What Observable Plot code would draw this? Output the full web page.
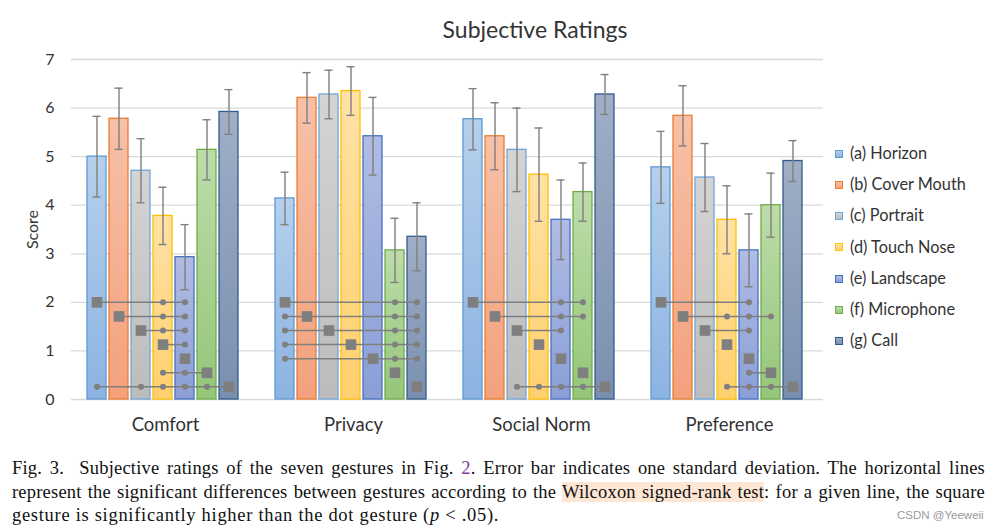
<!DOCTYPE html>
<html>
<head>
<meta charset="utf-8">
<script src="https://cdn.jsdelivr.net/npm/d3@7"></script>
<script src="https://cdn.jsdelivr.net/npm/@observablehq/plot@0.6"></script>
<style>
  html, body { margin: 0; padding: 0; background: #ffffff; }
  #page { position: relative; width: 1005px; height: 532px; overflow: hidden; font-family: Lato, "Noto Sans", sans-serif; color: #333; }
  #title { position: absolute; left: 385px; width: 300px; top: 15px; text-align: center; font-size: 23px; color: #333; }
  #chart { position: absolute; left: 0; top: 45px; }
  #legend { position: absolute; left: 835px; top: 137px; }
  .item { height: 31.2px; line-height: 31.2px; font-size: 16.3px; white-space: nowrap; color: #333; }
  .sw { display: inline-block; width: 6px; height: 6px; border: 1px solid; margin-right: 7px; vertical-align: middle; position: relative; top: -1px; }
  #caption { position: absolute; left: 12px; top: 457px; width: 973px; font-family: "Liberation Serif", "DejaVu Serif", serif; font-size: 18.5px; color: #111; }
  .line { height: 23.5px; line-height: 23.5px; white-space: nowrap; letter-spacing: 0.7px; }
  .just { text-align: justify; text-align-last: justify; letter-spacing: 0.2px; }
  .hl { background: #fde6d4; }
  .lnk { color: #7a3e9d; }
  #wm { position: absolute; left: 897px; top: 509px; font-family: "Liberation Sans", sans-serif; font-size: 11.5px; color: #9a9a9a; letter-spacing: 0; }
</style>
</head>
<body>
<div id="page">
  <div id="title">Subjective Ratings</div>
  <div id="chart"></div>
  <div id="legend"></div>
  <div id="caption">
    <div class="line just">Fig. 3.&nbsp; Subjective ratings of the seven gestures in Fig. <span class="lnk">2</span>. Error bar indicates one standard deviation. The horizontal lines</div>
    <div class="line just">represent the significant differences between gestures according to the <span class="hl">Wilcoxon signed-rank test</span>: for a given line, the square</div>
    <div class="line">gesture is significantly higher than the dot gesture (<i>p</i> &lt; .05).</div>
  </div>
  <div id="wm">CSDN @Yeeweii</div>
</div>
<script>
// ---- data ----
const groups = ["Comfort", "Privacy", "Social Norm", "Preference"];
const gestureKeys = ["a", "b", "c", "d", "e", "f", "g"];
const gestureNames = ["(a) Horizon", "(b) Cover Mouth", "(c) Portrait", "(d) Touch Nose", "(e) Landscape", "(f) Microphone", "(g) Call"];
const yTicks = [0, 1, 2, 3, 4, 5, 6, 7];

const comfortMean    = [5.00, 5.78, 4.71, 3.78, 2.93, 5.14, 5.92];
const comfortSD      = [0.83, 0.63, 0.66, 0.59, 0.67, 0.62, 0.46];
const privacyMean    = [4.14, 6.21, 6.28, 6.35, 5.42, 3.07, 3.35];
const privacySD      = [0.54, 0.52, 0.50, 0.50, 0.80, 0.66, 0.70];
const socialMean     = [5.77, 5.42, 5.14, 4.63, 3.70, 4.27, 6.28];
const socialSD       = [0.63, 0.69, 0.86, 0.96, 0.82, 0.60, 0.41];
const preferenceMean = [4.78, 5.84, 4.57, 3.70, 3.07, 4.00, 4.91];
const preferenceSD   = [0.74, 0.62, 0.70, 0.70, 0.75, 0.66, 0.42];

// significance: row i = square gesture i; string = dot gestures
const comfortSig    = ["de", "de", "de", "e", "", "de", "acdef"];
const privacySig    = ["fg", "afg", "afg", "afg", "afg", "", ""];
const socialSig     = ["ef", "ef", "e", "", "", "", "cdef"];
const preferenceSig = ["e", "def", "e", "", "", "e", "def"];

// colours (top of gradient, bottom of gradient, outline)
const fillTop    = ["#b6d0ec", "#f7c1a8", "#d4d4d4", "#ffe2a6", "#b0bce3", "#bddcaa", "#a0aec6"];
const fillBottom = ["#8cb3e2", "#f3a17c", "#bcbcbc", "#ffd06e", "#8b9fd6", "#95c67a", "#7a8fb0"];
const outline    = ["#5b9bd5", "#ed7d31", "#6ea6da", "#ffc000", "#4472c4", "#70ad47", "#2e5c90"];

// ---- build tables ----
const meanByGroup = [comfortMean, privacyMean, socialMean, preferenceMean];
const sdByGroup = [comfortSD, privacySD, socialSD, preferenceSD];
const sigByGroup = [comfortSig, privacySig, socialSig, preferenceSig];

const bars = [];
groups.forEach((g, gi) => gestureKeys.forEach((k, ki) => {
  bars.push({group: g, key: k, idx: ki, mean: meanByGroup[gi][ki], lo: meanByGroup[gi][ki] - sdByGroup[gi][ki], hi: meanByGroup[gi][ki] + sdByGroup[gi][ki]});
}));

const rowY = i => 2 - 0.29 * i;
const squares = [], dots = [], links = [];
groups.forEach((g, gi) => sigByGroup[gi].forEach((s, ri) => {
  const sq = gestureKeys[ri];
  squares.push({group: g, key: sq, y: rowY(ri)});
  const involved = [ri];
  for (const ch of s) {
    dots.push({group: g, key: ch, y: rowY(ri)});
    involved.push(gestureKeys.indexOf(ch));
  }
  if (s.length) {
    links.push({group: g, x1: gestureKeys[d3.min(involved)], x2: gestureKeys[d3.max(involved)], y: rowY(ri)});
  }
}));

const markGray = "#7f7f7f";

const barMarks = gestureKeys.map((k, i) => Plot.barY(bars.filter(d => d.key === k), {
  fx: "group", x: "key", y: "mean", fill: `url(#grad-${k})`, stroke: outline[i], strokeWidth: 1.3
}));

const chart = Plot.plot({
  width: 830,
  height: 400,
  marginLeft: 70,
  marginRight: 7,
  marginTop: 14,
  marginBottom: 46,
  style: {fontFamily: "Lato, 'Noto Sans', sans-serif", color: "#333", background: "transparent"},
  fx: {domain: groups, padding: 0},
  x: {domain: gestureKeys, paddingInner: 0.15, paddingOuter: 0.76, align: 0.42, axis: null},
  y: {domain: [0, 7]},
  marks: [
    Plot.gridY(yTicks, {stroke: "#d9d9d9", strokeOpacity: 1, strokeWidth: 1.3}),
    Plot.axisY({ticks: yTicks, tickSize: 0, tickPadding: 17, fontSize: 16, tickFormat: d3.format("d"), label: "Score", labelAnchor: "center", labelArrow: "none", labelOffset: 45}),
    Plot.axisFx({anchor: "bottom", tickSize: 0, tickPadding: 18, fontSize: 18.5, label: null}),
    ...barMarks,
    Plot.ruleX(bars, {fx: "group", x: "key", y1: "lo", y2: "hi", stroke: markGray, strokeWidth: 1.4}),
    Plot.tickY(bars, {fx: "group", x: "key", y: "lo", stroke: markGray, strokeWidth: 1.4, insetLeft: 5.5, insetRight: 5.5}),
    Plot.tickY(bars, {fx: "group", x: "key", y: "hi", stroke: markGray, strokeWidth: 1.4, insetLeft: 5.5, insetRight: 5.5}),
    Plot.link(links, {fx: "group", x1: "x1", x2: "x2", y1: "y", y2: "y", stroke: markGray, strokeWidth: 1.5}),
    Plot.dot(dots, {fx: "group", x: "key", y: "y", r: 3, fill: markGray, stroke: "none"}),
    Plot.dot(squares, {fx: "group", x: "key", y: "y", symbol: "square", r: 6, fill: markGray, stroke: "none"})
  ]
});

// gradient definitions
const defs = d3.select(chart).insert("defs", ":first-child");
gestureKeys.forEach((k, i) => {
  const lg = defs.append("linearGradient").attr("id", `grad-${k}`).attr("x1", 0).attr("y1", 0).attr("x2", 0).attr("y2", 1);
  lg.append("stop").attr("offset", "0%").attr("stop-color", fillTop[i]);
  lg.append("stop").attr("offset", "100%").attr("stop-color", fillBottom[i]);
});
document.getElementById("chart").appendChild(chart);

// legend
const legend = d3.select("#legend");
gestureNames.forEach((name, i) => {
  const it = legend.append("div").attr("class", "item");
  it.append("span").attr("class", "sw")
    .style("background", `linear-gradient(${fillTop[i]}, ${fillBottom[i]})`)
    .style("border-color", outline[i]);
  it.append("span").text(name);
});
</script>
</body>
</html>
